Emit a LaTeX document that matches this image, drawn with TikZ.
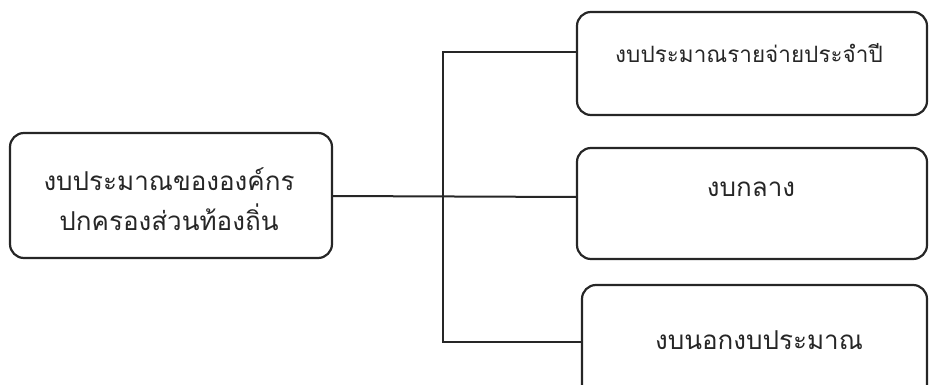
\documentclass[tikz,border=0pt]{standalone}
\usepackage{fontspec}
\newfontfamily\thaifont[Script=Thai]{Loma}
\tikzset{
  box/.style={draw=black!85, line width=2.2pt, rounded corners=14pt},
  lbl/.style={font=\thaifont\fontsize{26}{40}\selectfont, align=center, text=black!85},
  conn/.style={draw=black!85, line width=2pt}
}
\begin{document}
\begin{tikzpicture}[x=1pt,y=-1pt]
\useasboundingbox (0,0) rectangle (929,385);
% boxes
\draw[box] (10,133) rectangle (332,258);
\draw[box] (577,12) rectangle (927,115);
\draw[box] (577,148) rectangle (927,259);
\draw[box] (582,285) rectangle (927,398);
% labels
\node[lbl] (src) at (169,199) {งบประมาณขององค์กร\\ปกครองส่วนท้องถิ่น};
\coordinate (srcE) at (332,196);
\node[lbl, font=\thaifont\fontsize{22.5}{30}\selectfont] (t1) at (749,53) {งบประมาณรายจ่ายประจำปี};
\node[lbl] (t2) at (751,189) {งบกลาง};
\node[lbl] (t3) at (759,340) {งบนอกงบประมาณ};
\coordinate (b1) at (577,52);
\coordinate (b2) at (577,197);
\coordinate (b3) at (582,342);
\coordinate (j1) at (443,52);
\coordinate (j3) at (443,342);
\draw[conn] (b1) -- (j1) -- (j3) -- (b3);
\draw[conn] (srcE) -- (b2);
\end{tikzpicture}
\end{document}
